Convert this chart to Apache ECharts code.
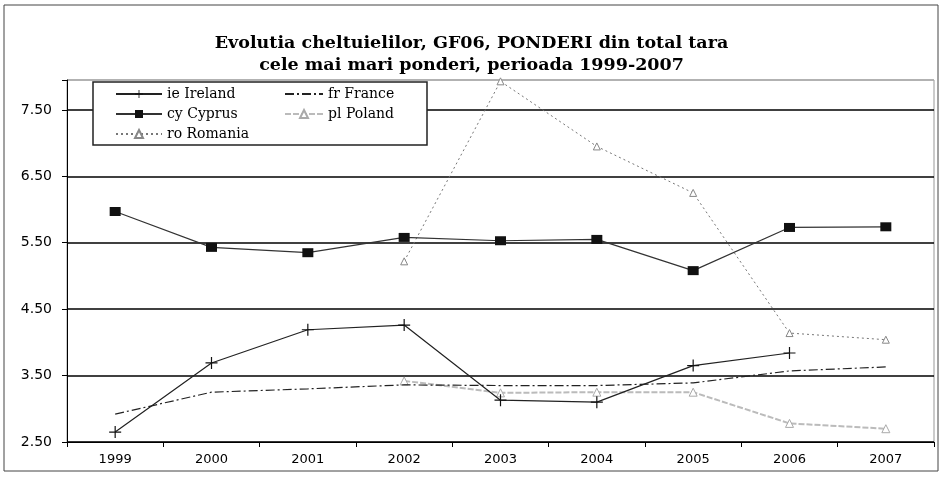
<!DOCTYPE html>
<html>
<head>
<meta charset="utf-8">
<script src="https://cdn.jsdelivr.net/npm/echarts@6/dist/echarts.min.js"></script>
<style>
  html, body { margin: 0; padding: 0; background: #fff; }
  #chart { width: 943px; height: 479px; }
</style>
</head>
<body>
<div id="chart"></div>
<script>
// ani
var years = ['1999', '2000', '2001', '2002', '2003', '2004', '2005', '2006', '2007'];
var ireland = [2.65, 3.69, 4.19, 4.26, 3.13, 3.10, 3.65, 3.84, null];
var france = [2.92, 3.25, 3.30, 3.36, 3.35, 3.35, 3.39, 3.57, 3.63];
var cyprus = [5.97, 5.43, 5.35, 5.58, 5.53, 5.55, 5.08, 5.73, 5.74];
var poland = [null, null, null, 3.42, 3.24, 3.25, 3.25, 2.78, 2.70];
var romania = [null, null, null, 5.22, 7.93, 6.95, 6.25, 4.14, 4.04];

var plusIcon = 'path://M4.5,0H5.5V4.5H10V5.5H5.5V10H4.5V5.5H0V4.5H4.5Z';
var serif = '"DejaVu Serif", "Liberation Serif", serif';
var sans = '"DejaVu Sans", Verdana, sans-serif';

var chart = echarts.init(document.getElementById('chart'));
var option = {
    animation: false,
    backgroundColor: '#fff',
    title: {
        text: 'Evolutia cheltuielilor, GF06, PONDERI din total tara\ncele mai mari ponderi, perioada 1999-2007',
        left: 'center',
        top: 27,
        textStyle: {
            fontFamily: serif,
            fontWeight: 'bold',
            fontSize: 17.5,
            lineHeight: 22,
            color: '#000'
        }
    },
    graphic: [
        {
            type: 'rect',
            shape: { x: 4, y: 5, width: 934, height: 466 },
            style: { fill: 'none', stroke: '#444', lineWidth: 1 },
            silent: true
        },
        {
            type: 'rect',
            shape: { x: 93, y: 82, width: 334, height: 63 },
            style: { fill: '#fff', stroke: '#222', lineWidth: 1.5 },
            z: 10,
            silent: true
        }
    ],
    legend: [
        {
            orient: 'vertical',
            left: 110,
            top: 82,
            itemWidth: 46,
            itemHeight: 10,
            itemGap: 6,
            z: 20,
            data: ['ie Ireland', 'cy Cyprus', 'ro Romania'],
            textStyle: { fontFamily: serif, fontSize: 14, color: '#000' }
        },
        {
            orient: 'vertical',
            left: 279,
            top: 82,
            itemWidth: 38,
            itemHeight: 10,
            itemGap: 6,
            z: 20,
            data: [{ name: 'fr France', itemStyle: { opacity: 0 } }, 'pl Poland'],
            textStyle: { fontFamily: serif, fontSize: 14, color: '#000' }
        }
    ],
    grid: {
        left: 67,
        right: 9,
        top: 80,
        bottom: 37,
        show: true,
        borderColor: '#999',
        borderWidth: 1
    },
    xAxis: {
        type: 'category',
        data: years,
        boundaryGap: true,
        axisLine: { lineStyle: { color: '#000', width: 1 } },
        axisTick: { show: true, alignWithLabel: false, length: 5, lineStyle: { color: '#000' } },
        axisLabel: { fontFamily: sans, fontSize: 13, color: '#000', margin: 11 }
    },
    yAxis: {
        type: 'value',
        min: 2.5,
        max: 7.95,
        interval: 1,
        axisLine: { show: true, lineStyle: { color: '#000', width: 1 } },
        axisTick: { show: true, length: 5, lineStyle: { color: '#000' } },
        axisLabel: {
            fontFamily: sans,
            fontSize: 14,
            color: '#000',
            margin: 15,
            formatter: function (v) {
                var r = Math.abs((v - 2.5) - Math.round(v - 2.5));
                return r < 0.001 ? v.toFixed(2) : '';
            }
        },
        splitLine: {
            show: true,
            lineStyle: { color: ['#000', '#000', '#000', '#000', '#000', '#000', '#aaa'], width: 1.5 }
        }
    },
    series: [
        {
            name: 'ie Ireland',
            type: 'line',
            data: ireland,
            symbol: plusIcon,
            symbolSize: 12,
            itemStyle: { color: '#111' },
            lineStyle: { color: '#222', width: 1.2 },
            z: 5
        },
        {
            name: 'fr France',
            type: 'line',
            data: france,
            symbol: 'none',
            itemStyle: { color: '#222' },
            lineStyle: { color: '#222', width: 1.2, type: [9, 3, 2, 3] },
            z: 4
        },
        {
            name: 'cy Cyprus',
            type: 'line',
            data: cyprus,
            symbol: 'rect',
            symbolSize: [11, 9],
            itemStyle: { color: '#111' },
            lineStyle: { color: '#333', width: 1.2 },
            z: 5
        },
        {
            name: 'pl Poland',
            type: 'line',
            data: poland,
            symbol: 'triangle',
            symbolSize: 8,
            itemStyle: { color: '#fff', borderColor: '#aaa', borderWidth: 1 },
            lineStyle: { color: '#bbb', width: 2, type: [6, 2] },
            z: 3
        },
        {
            name: 'ro Romania',
            type: 'line',
            data: romania,
            symbol: 'triangle',
            symbolSize: 7,
            itemStyle: { color: '#fff', borderColor: '#888', borderWidth: 1 },
            lineStyle: { color: '#777', width: 1, type: [2, 3] },
            z: 3
        }
    ]
};
chart.setOption(option);
</script>
</body>
</html>
